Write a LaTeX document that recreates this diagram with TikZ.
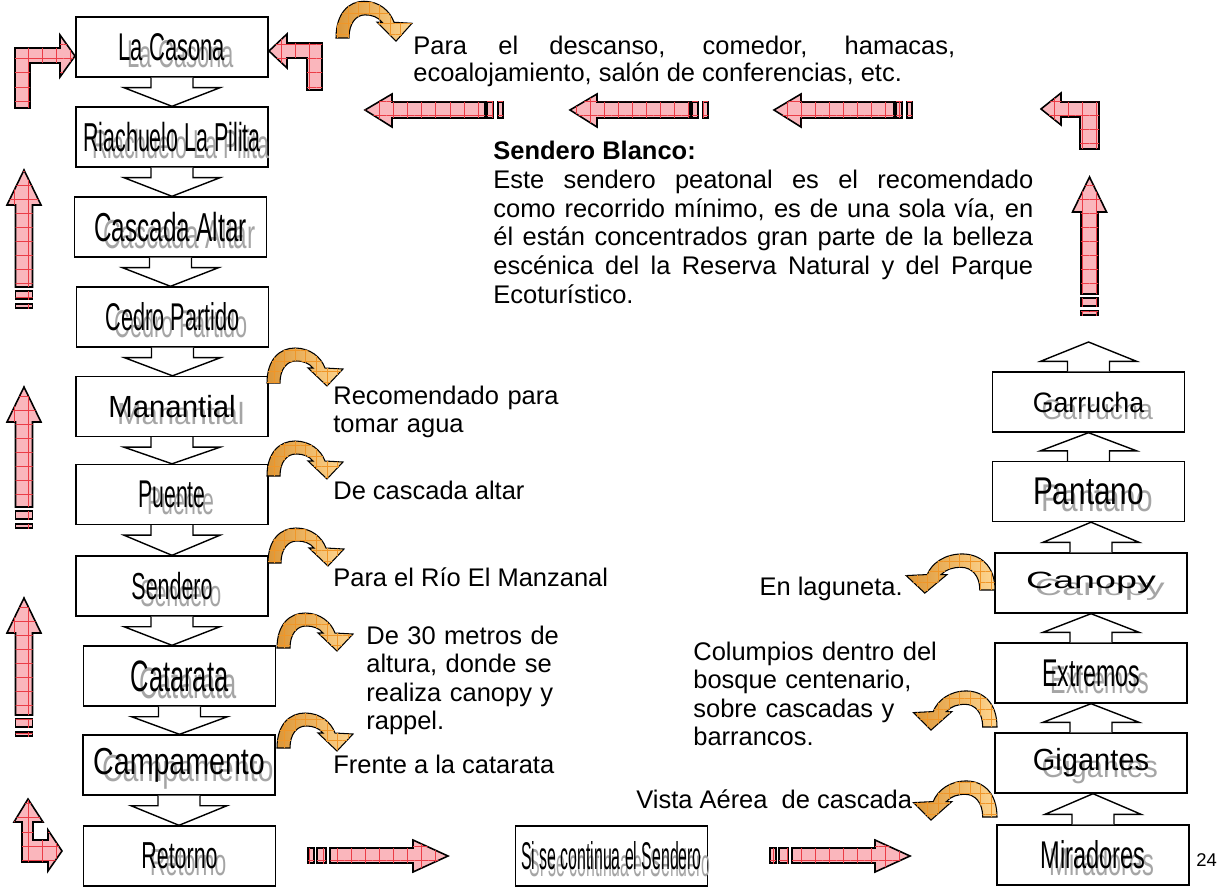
\documentclass[tikz,border=0pt]{standalone}
\usepackage{fontspec}
\setmainfont{Liberation Sans}
\usepackage{graphicx}
\usetikzlibrary{calc,patterns.meta}

\hyphenpenalty=10000
\exhyphenpenalty=10000

\definecolor{pinkfill}{RGB}{250,182,188}
\definecolor{gridred}{RGB}{235,60,70}
\definecolor{turndark}{RGB}{220,150,55}
\definecolor{turnlight}{RGB}{254,214,145}
\definecolor{turngrid}{RGB}{240,150,40}
\definecolor{shadowgray}{RGB}{165,165,165}

\tikzset{
    station/.style={draw, line width=0.8pt, fill=white, minimum width=3.84cm, minimum height=1.2cm, inner sep=0pt},
    chevron/.style={draw, line width=0.8pt, fill=white},
    pinkarrow/.style={draw, line width=0.9pt, fill=pinkfill, postaction={pattern={Hatch[distance=8pt, line width=0.3pt]}, pattern color=gridred}},
    turnarrow/.style={draw, line width=0.6pt, left color=turndark, right color=turnlight, postaction={pattern={Hatch[distance=6pt, line width=0.3pt]}, pattern color=turngrid}},
    note/.style={anchor=base west, inner sep=0pt, font=\fontsize{14.5}{16.3}\selectfont},
}

\newcommand\shtext[3]{\fontsize{#1}{#1}\selectfont\rlap{\raisebox{-4pt}[0pt][0pt]{\hspace{5pt}\textcolor{shadowgray}{\scalebox{#2}[1]{#3}}}}\scalebox{#2}[1]{#3}}

\newcommand\flowdown[2]{\draw[chevron] ($(#1)+(-21,0)$) -- ++(0,10) -- ++(-27,0) -- (#1 |- #2) -- ($(#1)+(48,10)$) -- ++(-27,0) -- ++(0,-10);}
\newcommand\flowup[2]{\draw[chevron] ($(#1)+(-21,0)$) -- ++(0,-10) -- ++(-27,0) -- (#1 |- #2) -- ($(#1)+(48,-10)$) -- ++(-27,0) -- ++(0,10);}

\newcommand\pinkup[4]{%
    \draw[pinkarrow] (#1,#2) -- (#1+17,#3) -- (#1+8.5,#3) -- (#1+8.5,#4) -- (#1-8.5,#4) -- (#1-8.5,#3) -- (#1-17,#3) -- cycle;
    \draw[pinkarrow] (#1-8.5,#4+4) rectangle (#1+8.5,#4+12);
    \draw[pinkarrow] (#1-8.5,#4+17) rectangle (#1+8.5,#4+21);}
\newcommand\pinkleft[1]{%
    \draw[pinkarrow] (#1,110) -- (#1+27,94) -- (#1+27,102) -- (#1+120,102) -- (#1+120,118) -- (#1+27,118) -- (#1+27,127) -- cycle;
    \draw[pinkarrow] (#1+122,102) rectangle (#1+128,118);
    \draw[pinkarrow] (#1+133,102) rectangle (#1+138,118);}
\newcommand\pinkright[1]{%
    \draw[pinkarrow] (#1,856) -- (#1-35,840) -- (#1-35,848) -- (#1-118,848) -- (#1-118,863) -- (#1-35,863) -- (#1-35,872) -- cycle;
    \draw[pinkarrow] (#1-140,848) rectangle (#1-134,863);
    \draw[pinkarrow] (#1-131,848) rectangle (#1-122,863);}

\newcommand\uturn[3][]{%
    \begin{scope}[shift={(#2,#3)}, #1]
        \draw[turnarrow] (0,0) .. controls (0,-24) and (13,-35) .. (28,-35)
            .. controls (43,-35) and (54,-26) .. (58,-15)
            -- (76,-14) -- (60,3) -- (41,-15) -- (46,-15)
            .. controls (42,-20) and (36,-22) .. (29,-22)
            .. controls (20,-22) and (13,-14) .. (13,0) -- cycle;
    \end{scope}}

\begin{document}
\begin{tikzpicture}[x=0.02cm, y=-0.02cm]
    \useasboundingbox (0,0) rectangle (1219,888);

    \node[station] (casona) at (172,47) {\shtext{22}{0.57}{La Casona}};
    \node[station] (pilita) at (172,137) {\shtext{23}{0.53}{Riachuelo La Pilita}};
    \node[station] (altar) at (170.5,227) {\shtext{23}{0.6}{Cascada Altar}};
    \node[station] (cedro) at (172.5,317) {\shtext{22}{0.56}{Cedro Partido}};
    \node[station] (manantial) at (172,406.5) {\shtext{17.4}{0.96}{Manantial}};
    \node[station] (puente) at (172,494.5) {\shtext{22}{0.55}{Puente}};
    \node[station] (sendero) at (172,586) {\shtext{21.4}{0.57}{Sendero}};
    \node[station] (catarata) at (179.5,676) {\shtext{25}{0.58}{Catarata}};
    \node[station] (campamento) at (179,765) {\shtext{21.4}{0.76}{Campamento}};
    \node[station] (retorno) at (179.5,856) {\shtext{21.4}{0.57}{Retorno}};
    \node[station] (continua) at (611.5,856) {\shtext{22}{0.41}{Si se continua el Sendero}};
    \node[station] (miradores) at (1093,855) {\shtext{22}{0.61}{Miradores}};
    \node[station] (gigantes) at (1091,763) {\shtext{17.4}{0.95}{Gigantes}};
    \node[station] (extremos) at (1091,673) {\shtext{22}{0.6}{Extremos}};
    \node[station] (canopy) at (1091,583) {\shtext{13.4}{1.6}{Canopy}};
    \node[station] (pantano) at (1088.5,491.5) {\shtext{22}{0.77}{Pantano}};
    \node[station] (garrucha) at (1088.5,402) {\shtext{16}{0.95}{Garrucha}};
    \coordinate (garrtip) at (1089,342);

    \flowdown{casona.south}{pilita.north}
    \flowdown{pilita.south}{altar.north}
    \flowdown{altar.south}{cedro.north}
    \flowdown{cedro.south}{manantial.north}
    \flowdown{manantial.south}{puente.north}
    \flowdown{puente.south}{sendero.north}
    \flowdown{sendero.south}{catarata.north}
    \flowdown{catarata.south}{campamento.north}
    \flowdown{campamento.south}{retorno.north}

    \flowup{miradores.north}{gigantes.south}
    \flowup{gigantes.north}{extremos.south}
    \flowup{extremos.north}{canopy.south}
    \flowup{canopy.north}{pantano.south}
    \flowup{pantano.north}{garrucha.south}
    \flowup{garrucha.north}{garrtip}

    \draw[pinkarrow] (15,108) -- (15,48) -- (60,48) -- (60,35) -- (75,56) -- (60,77)
        -- (60,63) -- (30,63) -- (30,108) -- cycle;
    \draw[pinkarrow] (269,51) -- (287,34) -- (287,43) -- (322,43) -- (322,90) -- (307,90)
        -- (307,58) -- (287,58) -- (287,68) -- cycle;
    \draw[pinkarrow] (1041,109) -- (1061,93) -- (1061,102) -- (1099,102) -- (1099,149)
        -- (1080,149) -- (1080,117) -- (1061,117) -- (1061,125) -- cycle;
    \draw[pinkarrow] (28,799) -- (43,822) -- (33,822) -- (33,840) -- (48,840) -- (48,830)
        -- (62,851) -- (48,871) -- (48,862) -- (22,862) -- (22,822) -- (14,822) -- cycle;

    \pinkup{24}{170}{205}{287}
    \pinkup{24}{387}{422}{507}
    \pinkup{24}{598}{633}{715}
    \pinkup{1089.5}{177}{212}{294}

    \pinkleft{365}
    \pinkleft{570}
    \pinkleft{774}

    \pinkright{448}
    \pinkright{910}

    \uturn[yscale=1.05]{336}{38}
    \uturn{267}{383}
    \uturn{267}{476}
    \uturn{268}{563}
    \uturn{277}{648}
    \uturn{277}{748}
    \uturn[xscale=-1.17, yscale=1.03]{995}{590}
    \uturn[xscale=-1.1, yscale=1.03]{997}{727}
    \uturn[xscale=-1.1, yscale=1.03]{997}{817}

    \node[note, text width=10.84cm, align=justify, font=\fontsize{14.5}{15.3}\selectfont] (descanso) at (413,55)
        {Para el descanso, comedor, hamacas,\linebreak ecoalojamiento, salón de conferencias, etc.};
    \node[note, text width=10.8cm, align=justify] (blanco) at (493,160)
        {\textbf{Sendero Blanco:}\newline Este sendero peatonal es el recomendado\linebreak
        como recorrido mínimo, es de una sola vía, en\linebreak
        él están concentrados gran parte de la belleza\linebreak
        escénica del la Reserva Natural y del Parque\linebreak Ecoturístico.};

    \node[note, text width=6cm, align=left] (agua) at (333,404) {Recomendado para\\tomar agua};
    \node[note] (cascada) at (333,499) {De cascada altar};
    \node[note] (manzanal) at (333,586) {Para el Río El Manzanal};
    \node[note, text width=6cm, align=left] (altura) at (366,644)
        {De 30 metros de\\altura, donde se\\realiza canopy y\\rappel.};
    \node[note] (frente) at (333,773) {Frente a la catarata};
    \node[note, anchor=base east] (laguneta) at (903,595) {En laguneta.};
    \node[note, text width=6cm, align=left] (columpios) at (693,660)
        {Columpios dentro del\\bosque centenario,\\sobre cascadas y\\barrancos.};
    \node[note] (vista) at (636,808) {Vista Aérea\ \ de cascada};
    \node[note, font=\fontsize{10.5}{12}\selectfont] (pagina) at (1196,866) {24};
\end{tikzpicture}
\end{document}
